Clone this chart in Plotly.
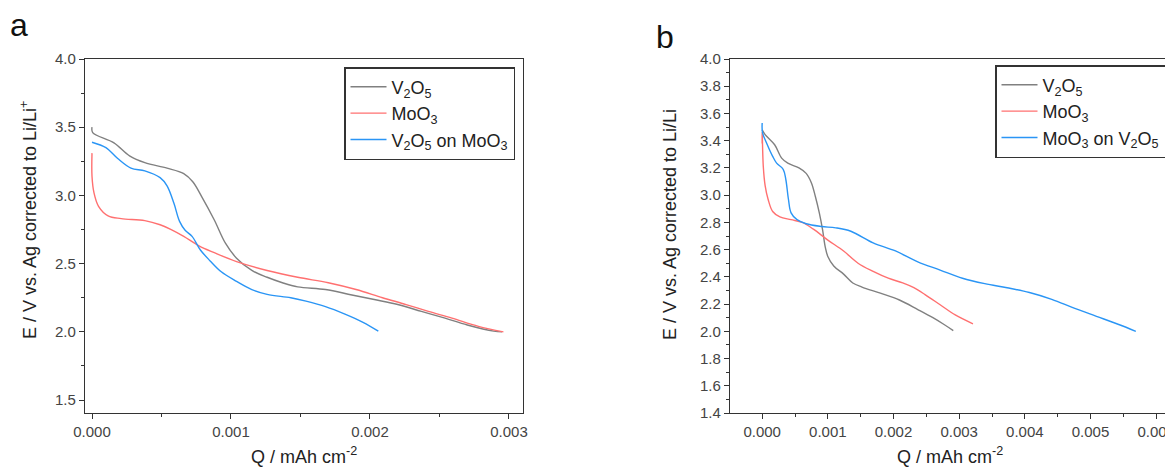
import plotly.graph_objects as go

# panel a: Q (mAh cm-2) and E (V vs. Ag corrected to Li/Li+)
a_v2o5_q = [0, 0.000005, 0.000158, 0.00027, 0.00038, 0.00054, 0.00066, 0.000725, 0.00079, 0.00088,
            0.00096, 0.00104, 0.00115, 0.00126, 0.00137, 0.00148, 0.00168, 0.00187, 0.00204, 0.0022,
            0.00237, 0.00254, 0.0027, 0.00289, 0.00295]
a_v2o5_e = [3.5, 3.46, 3.385, 3.29, 3.24, 3.2, 3.16, 3.10, 2.99, 2.82,
            2.65, 2.54, 2.45, 2.40, 2.36, 2.33, 2.31, 2.27, 2.235, 2.20,
            2.15, 2.10, 2.05, 2.005, 2.0]

a_moo3_q = [0, 0.0, 0.000014, 0.000047, 0.000116, 0.00021, 0.00038, 0.00049, 0.00057, 0.00066,
            0.00077, 0.00088, 0.00104, 0.00126, 0.00148, 0.0017, 0.0019, 0.00209, 0.00226, 0.00242,
            0.00259, 0.00278, 0.00296]
a_moo3_e = [3.31, 3.14, 3.02, 2.92, 2.85, 2.83, 2.815, 2.785, 2.75, 2.70,
            2.63, 2.58, 2.515, 2.45, 2.40, 2.36, 2.31, 2.25, 2.20, 2.15,
            2.10, 2.04, 2.0]

a_mix_q = [0, 0.0001, 0.000185, 0.00028, 0.00038, 0.00049, 0.00054, 0.00059, 0.00063, 0.00067,
           0.00072, 0.00078, 0.00085, 0.00093, 0.00104, 0.00115, 0.00126, 0.00143, 0.00154, 0.00168,
           0.00182, 0.00195, 0.00206]
a_mix_e = [3.39, 3.35, 3.27, 3.2, 3.18, 3.13, 3.07, 2.94, 2.81, 2.745,
           2.70, 2.60, 2.52, 2.44, 2.37, 2.31, 2.275, 2.25, 2.225, 2.185,
           2.13, 2.07, 2.005]

# panel b
b_v2o5_q = [0, 0.000045, 0.00019, 0.0003, 0.00039, 0.00056, 0.00067, 0.00075, 0.00081, 0.00087,
            0.00092, 0.00096, 0.001, 0.00109, 0.00124, 0.00138, 0.00152, 0.0018, 0.00209, 0.00237,
            0.0026, 0.00277, 0.00291]
b_v2o5_e = [3.48, 3.445, 3.37, 3.27, 3.235, 3.2, 3.16, 3.09, 2.99, 2.87,
            2.745, 2.62, 2.55, 2.48, 2.42, 2.355, 2.325, 2.28, 2.23, 2.16,
            2.10, 2.05, 2.005]

b_moo3_q = [0, 0.0, 0.000017, 0.000045, 0.00009, 0.00016, 0.00027, 0.00044, 0.00061, 0.00078,
            0.001, 0.00124, 0.00146, 0.00169, 0.00192, 0.00214, 0.00231, 0.00248, 0.00271, 0.00294,
            0.00321]
b_moo3_e = [3.38, 3.46, 3.21, 3.07, 2.97, 2.88, 2.84, 2.82, 2.80, 2.75,
            2.67, 2.59, 2.50, 2.44, 2.39, 2.355, 2.32, 2.27, 2.195, 2.12,
            2.055]

b_mix_q = [0, 0.000005, 0.00007, 0.00016, 0.00022, 0.00032, 0.00036, 0.0004, 0.00044, 0.00053,
           0.00067, 0.0009, 0.00112, 0.00135, 0.00169, 0.00203, 0.00237, 0.00271, 0.00305, 0.00339,
           0.00373, 0.00407, 0.00441, 0.00475, 0.00509, 0.00543, 0.00569]
b_mix_e = [3.53, 3.46, 3.38, 3.285, 3.235, 3.19, 3.115, 2.97, 2.87, 2.82,
           2.79, 2.77, 2.76, 2.735, 2.65, 2.59, 2.51, 2.45, 2.39, 2.35,
           2.32, 2.285, 2.235, 2.17, 2.11, 2.05, 2.0]

GRAY = "#808080"
RED = "#ff7070"
BLUE = "#2a95f5"
FONT = "Arial, Liberation Sans, sans-serif"

V2O5 = "V<sub>2</sub>O<sub>5</sub>"
MOO3 = "MoO<sub>3</sub>"

# the page body has an 8px margin, so the figure is shrunk and shifted by that much
OFF = 8
W, H = 1173 - OFF, 468 - OFF


def px(x):
    return (x - OFF) / W


def py(y):
    return 1 - (y - OFF) / H


fig = go.Figure()

fig.add_trace(go.Scatter(x=a_v2o5_q, y=a_v2o5_e, name=V2O5, mode="lines",
                         line=dict(color=GRAY, width=1.4, shape="spline"), xaxis="x", yaxis="y", legend="legend"))
fig.add_trace(go.Scatter(x=a_moo3_q, y=a_moo3_e, name=MOO3, mode="lines",
                         line=dict(color=RED, width=1.4, shape="spline"), xaxis="x", yaxis="y", legend="legend"))
fig.add_trace(go.Scatter(x=a_mix_q, y=a_mix_e, name=V2O5 + " on " + MOO3, mode="lines",
                         line=dict(color=BLUE, width=1.4, shape="spline"), xaxis="x", yaxis="y", legend="legend"))

fig.add_trace(go.Scatter(x=b_v2o5_q, y=b_v2o5_e, name=V2O5, mode="lines",
                         line=dict(color=GRAY, width=1.4, shape="spline"), xaxis="x2", yaxis="y2", legend="legend2"))
fig.add_trace(go.Scatter(x=b_moo3_q, y=b_moo3_e, name=MOO3, mode="lines",
                         line=dict(color=RED, width=1.4, shape="spline"), xaxis="x2", yaxis="y2", legend="legend2"))
fig.add_trace(go.Scatter(x=b_mix_q, y=b_mix_e, name=MOO3 + " on " + V2O5, mode="lines",
                         line=dict(color=BLUE, width=1.4, shape="spline"), xaxis="x2", yaxis="y2", legend="legend2"))

ax_common = dict(showgrid=False, zeroline=False, showline=True, linecolor="#333", linewidth=1.3,
                 mirror=True, ticks="outside", ticklen=5, tickwidth=1.2, tickcolor="#333",
                 automargin=False, ticklabeloverflow="allow",
                 tickfont=dict(family=FONT, size=15, color="#444"))

fig.update_layout(
    width=W, height=H,
    margin=dict(l=0, r=0, t=0, b=0, autoexpand=False),
    paper_bgcolor="white", plot_bgcolor="white",
    font=dict(family=FONT, color="#222"),
    xaxis=dict(domain=[px(85), px(523)], range=[-0.0000504, 0.003101], anchor="y",
               dtick=0.001, tick0=0, tickformat=".3f",
               minor=dict(ticks="outside", ticklen=3, dtick=0.0005, tick0=0, tickcolor="#333"), **ax_common),
    yaxis=dict(domain=[py(413), py(59)], range=[1.405, 4.0], anchor="x",
               dtick=0.5, tick0=1.5, tickformat=".1f",
               minor=dict(ticks="outside", ticklen=3, dtick=0.25, tick0=1.5, tickcolor="#333"), **ax_common),
    xaxis2=dict(domain=[px(730), px(1168)], range=[-0.00049, 0.00618], anchor="y2",
                dtick=0.001, tick0=0, tickformat=".3f",
                minor=dict(ticks="outside", ticklen=3, dtick=0.0005, tick0=0, tickcolor="#333"), **ax_common),
    yaxis2=dict(domain=[py(413), py(59)], range=[1.4, 4.0], anchor="x2",
                dtick=0.2, tick0=1.4, tickformat=".1f",
                minor=dict(ticks="outside", ticklen=3, dtick=0.1, tick0=1.4, tickcolor="#333"), **ax_common),
    legend=dict(x=px(344), y=py(67), xanchor="left", yanchor="top",
                bordercolor="#333", borderwidth=1.5, bgcolor="white",
                font=dict(family=FONT, size=18, color="#222"), itemwidth=36),
    legend2=dict(x=px(995), y=py(65), xanchor="left", yanchor="top",
                 bordercolor="#333", borderwidth=1.5, bgcolor="white",
                 font=dict(family=FONT, size=18, color="#222"), itemwidth=36),
)

title_font = dict(family=FONT, size=18, color="#222")
ann = dict(xref="paper", yref="paper", showarrow=False, xanchor="center", yanchor="middle")
# axis titles and panel letters
fig.add_annotation(text="Q / mAh cm<sup>-2</sup>", x=px(304), y=py(455), font=title_font, **ann)
fig.add_annotation(text="Q / mAh cm<sup>-2</sup>", x=px(950), y=py(455), font=title_font, **ann)
fig.add_annotation(text="E / V vs. Ag corrected to Li/Li<sup>+</sup>", x=px(28), y=py(220),
                   textangle=-90, font=title_font, **ann)
fig.add_annotation(text="E / V vs. Ag corrected to Li/Li", x=px(670), y=py(225),
                   textangle=-90, font=title_font, **ann)
fig.add_annotation(text="a", x=px(19), y=py(25), font=dict(family=FONT, size=32, color="#111"), **ann)
fig.add_annotation(text="b", x=px(665), y=py(37), font=dict(family=FONT, size=32, color="#111"), **ann)

fig.write_html("out.html")
